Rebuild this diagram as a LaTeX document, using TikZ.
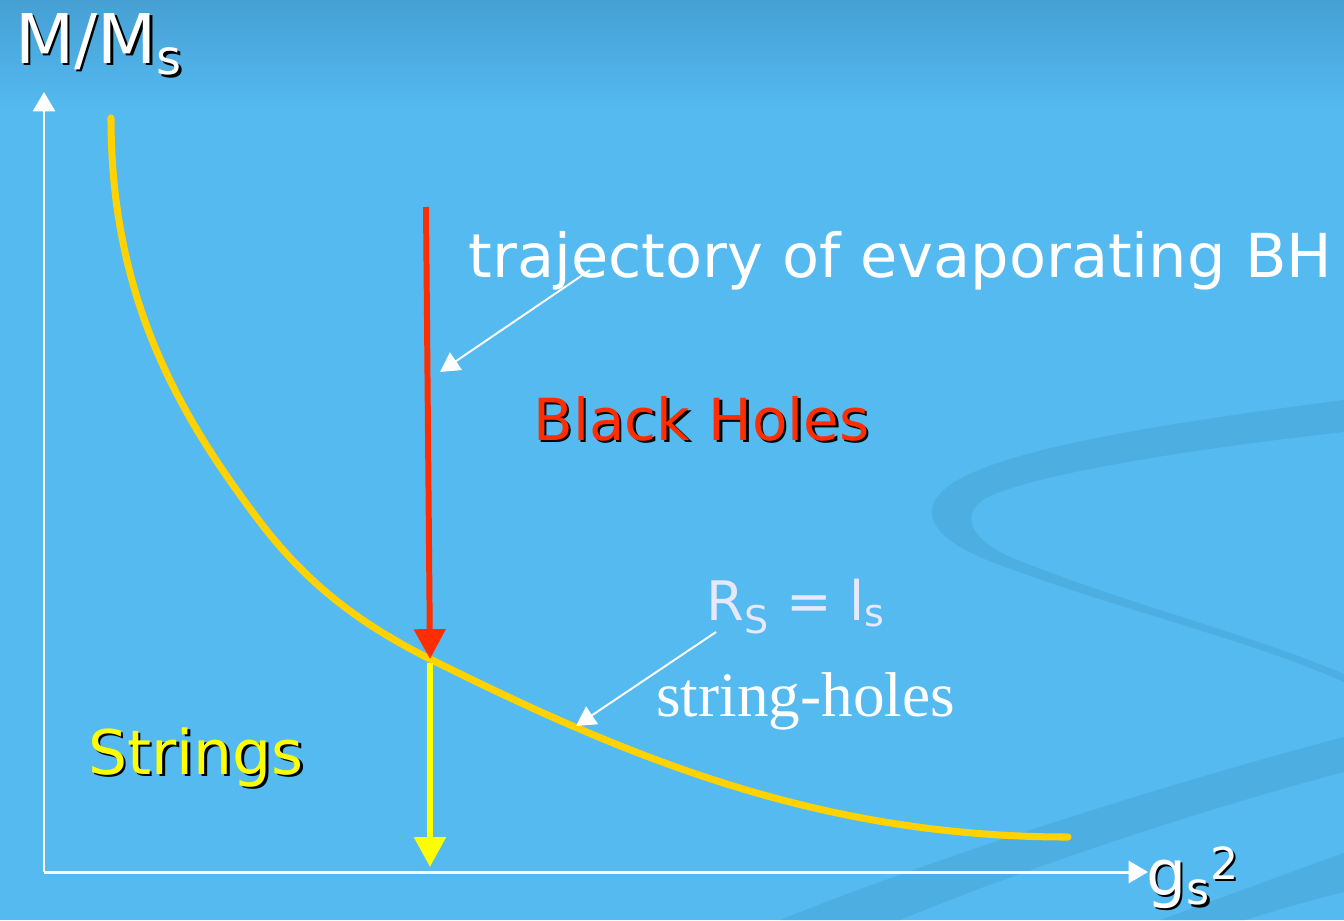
\documentclass[tikz,border=0pt]{standalone}
\usepackage{fontspec}
\setmainfont{Liberation Serif}
\setsansfont{DejaVu Sans}
\usetikzlibrary{arrows.meta}
\definecolor{skyback}{RGB}{84,186,240}
\definecolor{skytop}{RGB}{70,160,212}
\definecolor{swirlblue}{RGB}{77,174,226}
\definecolor{curvegold}{RGB}{255,210,0}
\definecolor{bhred}{RGB}{255,45,0}
\definecolor{strgyellow}{RGB}{255,255,0}
\definecolor{lavender}{RGB}{232,232,252}
% shadowed label: name, x, y, colour, size, text
\newcommand{\shadowlabel}[6]{%
  \node[labeltext, black, font=\sffamily\fontsize{#5}{#5}\selectfont] (#1-sh) at (#2+2.5, #3+2.5) {#6};
  \node[labeltext, #4, font=\sffamily\fontsize{#5}{#5}\selectfont] (#1) at (#2, #3) {#6};}

\begin{document}
\begin{tikzpicture}[x=0.02cm, y=-0.02cm,
    labeltext/.style={inner sep=0pt, anchor=base west},
    axis/.style={white, line width=1.7pt, -{Triangle[length=11pt, width=12.5pt]}},
    pointer/.style={white, line width=1.1pt, -{Triangle[length=11pt, width=12pt]}},
    bigarrow/.style={line width=3.4pt, -{Triangle[length=17pt, width=17.5pt]}}]
        \useasboundingbox (0,0) rectangle (1344,920);
        % Background with darker strip on top
        \fill[skyback] (0,0) rectangle (1344,920);
        \shade[top color=skytop, bottom color=skyback] (0,0) rectangle (1344,110);
        % Swirl in the lower right corner
        \fill[swirlblue] (1344,400) .. controls (1150,425) and (1000,450) .. (950,485)
          .. controls (915,510) and (930,540) .. (1000,565)
          .. controls (1120,610) and (1250,640) .. (1344,682)
          -- (1344,674) .. controls (1250,634) and (1120,602) .. (1010,557)
          .. controls (960,534) and (960,505) .. (1000,492)
          .. controls (1060,470) and (1200,448) .. (1344,432) -- cycle;
        \fill[swirlblue] (780,920) .. controls (950,852) and (1180,780) .. (1344,737)
          -- (1344,772) .. controls (1200,810) and (1020,870) .. (900,920) -- cycle;
        \fill[swirlblue] (1160,920) .. controls (1230,895) and (1290,872) .. (1344,853)
          -- (1344,892) .. controls (1300,903) and (1270,912) .. (1245,920) -- cycle;

        % Axes
        \coordinate (origin) at (44,872);
        \coordinate (ytip) at (44,92);
        \coordinate (xtip) at (1148,872);
        \draw[axis] (origin) -- (ytip);
        \draw[axis] (origin) -- (xtip);
        \shadowlabel{ylabel}{15}{63}{white}{39}{M/M\textsubscript{s}}
        \shadowlabel{xlabel}{1146}{895}{white}{36}{g\textsubscript{s}\textsuperscript{2}}

        % String-hole curve R_S = l_s
        \coordinate (ctop) at (111,118);
        \coordinate (cmid) at (257,518);
        \coordinate (hit) at (430,659);
        \coordinate (cend) at (1068,837);
        \draw[curvegold, line width=4pt, line cap=round]
          (ctop) .. controls (111,298) and (179,414) .. (cmid)
          .. controls (305,582) and (358,623) .. (hit)
          .. controls (627,757) and (818,837) .. (cend);

        % Trajectory of the evaporating black hole
        \coordinate (bhstart) at (426,207);
        \coordinate (below) at (430,663);
        \coordinate (floor) at (430,867);
        \draw[bigarrow, bhred] (bhstart) -- (hit);
        \draw[bigarrow, strgyellow] (below) -- (floor);

        % Labels
        \node[labeltext, white, font=\sffamily\fontsize{34.5}{34.5}\selectfont] (traj) at (468,277)
          {trajectory of evaporating BH};
        \shadowlabel{bh}{533}{440}{bhred}{33}{Black Holes}
        \shadowlabel{strings}{88}{774}{strgyellow}{35}{Strings}
        \node[labeltext, lavender, font=\sffamily\fontsize{31}{31}\selectfont] (rs) at (706,620)
          {R\textsubscript{S} = l\textsubscript{s}};
        \node[labeltext, white, font=\rmfamily\fontsize{36}{36}\selectfont] (sholes) at (656,716)
          {string-holes};

        % Pointers
        \coordinate (trajfrom) at (590,270);
        \coordinate (trajto) at (440,372);
        \coordinate (rsfrom) at (716,632);
        \coordinate (rsto) at (576,726);
        \draw[pointer] (trajfrom) -- (trajto);
        \draw[pointer] (rsfrom) -- (rsto);
      \end{tikzpicture}
\end{document}
